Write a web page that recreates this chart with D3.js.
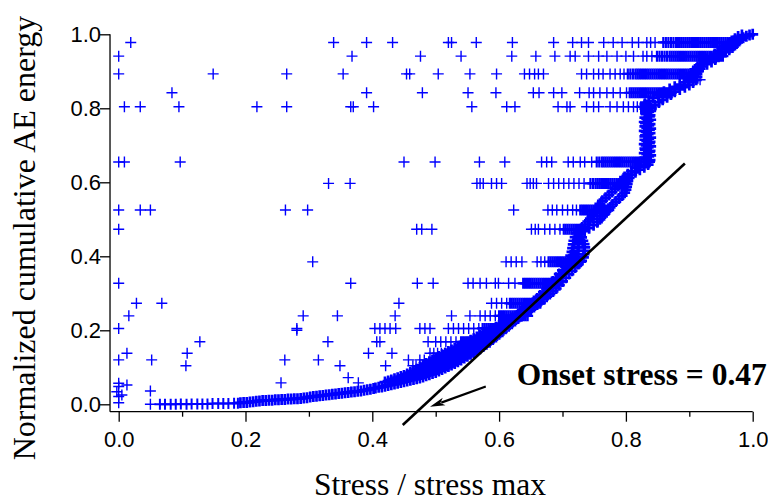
<!DOCTYPE html>
<html><head><meta charset="utf-8">
<script src="https://cdn.jsdelivr.net/npm/d3@7"></script>
<style>html,body{margin:0;padding:0;background:#fff;} svg{display:block}</style>
</head><body>
<svg id="chart" width="768" height="502"></svg>
<script>
// ---------------- DATA ----------------
const xTicks = [0, 0.2, 0.4, 0.6, 0.8, 1.0];
const xMinorTicks = [0.1, 0.3, 0.5, 0.7, 0.9];
const yTicks = [0, 0.2, 0.4, 0.6, 0.8, 1.0];
const xTitle = "Stress / stress max";
const yTitle = "Normalized cumulative AE energy";
const noteText = "Onset stress = 0.47";

// horizontal rows of events (normalized energy level -> stress values)
const rowLevels = [0.978, 0.941, 0.893, 0.842, 0.804, 0.655, 0.597, 0.525, 0.473, 0.385, 0.327, 0.273, 0.239, 0.205, 0.169, 0.138, 0.120, 0.104];
const rowSparse = [
  [0.019,0.339,0.391,0.432,0.520,0.525,0.564,0.621,0.686,0.716,0.730,0.741,0.765,0.780,0.794,0.810,0.820,0.833,0.839,0.846],
  [0.000,0.368,0.476,0.540,0.620,0.658,0.688,0.712,0.720,0.741,0.757,0.770,0.786,0.800,0.812,0.827,0.833,0.841],
  [0.000,0.149,0.265,0.354,0.454,0.459,0.504,0.554,0.596,0.640,0.648,0.656,0.662,0.670,0.730,0.738,0.749,0.757,0.764,0.775,0.783,0.791,0.797],
  [0.084,0.391,0.479,0.551,0.595,0.654,0.663,0.686,0.699,0.727,0.742,0.749,0.759,0.770,0.780,0.791,0.801],
  [0.009,0.034,0.095,0.218,0.265,0.366,0.370,0.402,0.557,0.612,0.625,0.693,0.707,0.712,0.738,0.749,0.757,0.775,0.786,0.796,0.804,0.812,0.818],
  [0.000,0.009,0.097,0.450,0.499,0.569,0.609,0.667,0.675,0.683,0.709,0.717,0.728,0.735,0.746],
  [0.331,0.365,0.565,0.570,0.575,0.588,0.596,0.604,0.644,0.649,0.654,0.659,0.678,0.686,0.694,0.702,0.710,0.718,0.726,0.734],
  [0.000,0.034,0.050,0.263,0.298,0.623,0.677,0.684,0.691,0.700,0.708,0.716,0.722],
  [0.000,0.470,0.478,0.494,0.651,0.657,0.662,0.672,0.680,0.688,0.696],
  [0.306,0.611,0.619,0.627,0.636,0.660,0.666,0.672],
  [0.000,0.366,0.471,0.496,0.551,0.559,0.570,0.580,0.594,0.599,0.615,0.625],
  [0.028,0.068,0.442,0.588,0.596,0.604,0.612],
  [0.016,0.291,0.345,0.436,0.525,0.554,0.570,0.578,0.586,0.594],
  [0.000,0.281,0.404,0.412,0.420,0.428,0.437,0.475,0.483,0.491,0.520,0.528,0.536,0.544,0.552,0.560,0.568],
  [0.128,0.330,0.407,0.412,0.488,0.500,0.508,0.516,0.524,0.532],
  [0.013,0.108,0.394,0.431,0.491,0.497,0.503,0.509,0.515],
  [0.000,0.052,0.262,0.315,0.457,0.475,0.482],
  [0.106,0.349,0.421,0.464,0.469,0.475,0.480]
];
const rowDense = [
  [.859,.863,.867,.871,.875,.879,.882,.885,.888,.891,.894,.897,.900,.903,.906,.909,.912,.915,.918,.921,.924,.927,.930,.933,.936,.939,.942,.945,.948,.951,.954,.957,.960,.963,.966,.969,.972,.975],
  [.849,.853,.857,.861,.865,.869,.872,.875,.878,.881,.884,.887,.890,.893,.896,.899,.902,.905,.908,.911,.914,.917,.920,.923,.926,.929,.932,.935,.938,.941,.944,.947,.950,.953],
  [.803,.807,.811,.815,.818,.821,.824,.827,.830,.833,.836,.839,.842,.845,.848,.851,.854,.857,.860,.863,.866,.869,.872,.875,.878,.881,.884,.887,.890,.893,.896,.899,.902,.905,.908],
  [.806,.809,.812,.815,.818,.821,.824,.827,.830,.833,.836,.839,.842,.845,.848,.851,.854,.857,.860,.863,.866,.869,.872],
  [.824,.827,.830,.833,.836,.839],
  [.754,.758,.762,.765,.768,.771,.774,.777,.780,.783,.786,.789,.792,.795,.798,.801,.804,.807,.810,.813,.816,.819,.822,.825,.828,.831,.834,.837],
  [.744,.748,.752,.755,.758,.761,.764,.767,.770,.773,.776,.779,.782,.785,.788,.791,.794,.797,.800],
  [.728,.731,.734,.737,.740,.743,.746,.749,.752,.755,.758,.761,.764,.767,.770,.773],
  [.702,.705,.708,.711,.714,.717,.720,.723,.726,.729,.732],
  [.678,.681,.684,.687,.690,.693,.696,.699,.702,.705,.708,.711,.714,.717,.720,.723,.726,.729],
  [.638,.641,.644,.647,.650,.653,.656,.659,.662,.665,.668,.671,.674,.677,.680,.683,.686,.689,.692],
  [.617,.620,.623,.626,.629,.632,.635,.638,.641,.644,.647,.650,.653,.656,.659,.662,.665],
  [.600,.603,.606,.609,.612,.615,.618,.621,.624,.627,.630,.633,.636,.639,.642,.645],
  [.574,.577,.580,.583,.586,.589,.592,.595,.598,.601,.604,.607,.610],
  [.540,.543,.546,.549,.552,.555,.558,.561,.564,.567,.570,.573,.576,.579],
  [.520,.523,.526,.529,.532,.535,.538,.541,.544,.547,.550,.553],
  [.495,.498,.501,.504,.507,.510,.513,.516,.519,.522,.525,.528,.531,.534],
  [.487,.490,.493,.496,.499,.502,.505,.508,.511,.514,.517,.520]
];

// isolated events
const isolatedPts = [[0.000,0.057],[0.013,0.052],[0.000,0.048],[-0.003,0.034],[0.005,0.025],[0.000,0.021],[0.000,0.004],
  [0.050,0.036],[0.050,0.000],[0.256,0.058],[0.362,0.072],[0.378,0.058],[0.917,0.877],[0.281,0.200]];

// main band (stress, energy)
const bandStart = [[0.065,0],[0.073,0],[0.082,0],[0.090,0],[0.098,0.001],[0.107,0],[0.115,0.001],[0.124,0.001],[0.132,0.001],[0.140,0.001],[0.148,0.002],[0.157,0.002],[0.165,0.002],[0.173,0.002],[0.182,0.003],[0.188,0.003]];
const bandFlat = [[.192,.004],[.197,.005],[.202,.005],[.207,.006],[.212,.007],[.217,.008],[.222,.009],[.227,.010],[.232,.010],[.237,.011],[.242,.011],[.247,.012],[.252,.012],[.257,.013],[.262,.013],[.267,.014],[.272,.014],[.277,.015],[.282,.015],[.287,.016],[.292,.017],[.297,.018],[.302,.020],[.307,.021],[.312,.022],[.317,.023],[.322,.024],[.327,.025],[.332,.026],[.337,.027],[.342,.028],[.347,.029],[.352,.030],[.357,.031],[.362,.032],[.367,.033],[.372,.034],[.377,.035],[.382,.036],[.387,.038],[.392,.039],[.397,.041],[.402,.043]];
const bandLower = [[0.405,0.044],[0.410,0.046],[0.415,0.047],[0.420,0.049],[0.425,0.051],[0.430,0.053],[0.435,0.055],[0.440,0.057],[0.445,0.059],[0.450,0.061],[0.455,0.063],[0.460,0.065],[0.465,0.067],[0.470,0.069],[0.475,0.071],[0.480,0.074],[0.485,0.077],[0.490,0.080],[0.495,0.083],[0.500,0.086],[0.505,0.090],[0.510,0.094],[0.515,0.098],[0.520,0.102],[0.525,0.106],[0.530,0.110],[0.535,0.115],[0.540,0.120],[0.545,0.125],[0.550,0.130],[0.555,0.135],[0.560,0.140],[0.565,0.145],[0.570,0.150],[0.575,0.156],[0.580,0.162],[0.585,0.168],[0.590,0.175],[0.595,0.182],[0.600,0.189],[0.605,0.196],[0.610,0.204],[0.615,0.211],[0.620,0.218],[0.625,0.225],[0.630,0.232],[0.635,0.238],[0.640,0.244],[0.645,0.250],[0.650,0.256],[0.655,0.263],[0.660,0.270],[0.665,0.277],[0.670,0.284],[0.675,0.291],[0.680,0.298],[0.685,0.305],[0.690,0.313],[0.695,0.322],[0.700,0.332],[0.705,0.342],[0.710,0.352],[0.715,0.361],[0.720,0.370],[0.725,0.379],[0.730,0.388],[0.733,0.397],[0.734,0.406],[0.735,0.415],[0.735,0.424],[0.734,0.433],[0.732,0.442],[0.730,0.451],[0.728,0.460],[0.735,0.468],[0.742,0.476],[0.749,0.484],[0.755,0.492],[0.759,0.500],[0.763,0.508],[0.767,0.516],[0.771,0.524],[0.775,0.532],[0.779,0.540],[0.784,0.548],[0.789,0.556],[0.794,0.564],[0.798,0.572],[0.800,0.580],[0.801,0.588],[0.802,0.596],[0.803,0.604],[0.805,0.612],[0.809,0.620],[0.815,0.627],[0.822,0.634],[0.829,0.641],[0.835,0.648],[0.837,0.656]];
const bandCore = [[.4425,.066],[.4475,.069],[.4525,.072],[.4575,.075],[.4625,.078],[.4675,.081],[.4725,.085],[.4775,.089],[.4825,.093],[.4875,.097],[.4925,.100],[.4975,.104],[.5025,.108],[.5075,.112],[.5125,.116],[.5175,.120],[.5225,.124],[.5275,.128],[.5325,.132],[.5375,.137],[.5425,.142],[.5475,.146],[.5525,.151],[.5575,.156],[.5625,.161],[.5675,.166],[.5725,.171],[.5775,.176],[.5825,.182],[.5875,.188],[.5925,.194],[.5975,.200],[.6025,.205],[.6075,.212],[.6125,.218],[.6175,.224],[.6225,.230],[.6275,.237],[.6325,.244],[.6375,.250],[.6425,.257],[.6475,.263],[.6525,.270],[.6575,.277],[.6625,.284],[.6675,.292],[.6725,.300],[.6775,.308],[.6825,.317],[.6875,.326],[.6925,.335],[.6975,.345],[.7025,.355],[.7075,.365],[.712,.375],[.718,.385],[.722,.395],[.724,.405],[.725,.415],[.725,.425],[.725,.435],[.724,.445]];
const bandUpper = [[0.420,0.060],[0.425,0.063],[0.430,0.066],[0.435,0.069],[0.440,0.072],[0.445,0.075],[0.450,0.078],[0.455,0.082],[0.460,0.086],[0.465,0.090],[0.470,0.095],[0.475,0.100],[0.480,0.105],[0.485,0.110],[0.490,0.115],[0.495,0.119],[0.500,0.124],[0.505,0.129],[0.510,0.134],[0.515,0.138],[0.520,0.143],[0.525,0.147],[0.530,0.151],[0.535,0.155],[0.540,0.159],[0.545,0.164],[0.550,0.168],[0.555,0.173],[0.560,0.177],[0.565,0.182],[0.570,0.186],[0.575,0.190],[0.580,0.195],[0.585,0.199],[0.590,0.204],[0.595,0.208],[0.600,0.213],[0.605,0.218],[0.610,0.223],[0.615,0.228],[0.620,0.233],[0.625,0.238],[0.630,0.244],[0.635,0.251],[0.640,0.258],[0.645,0.265],[0.650,0.272],[0.655,0.279],[0.660,0.286],[0.665,0.294],[0.670,0.303],[0.675,0.312],[0.680,0.322],[0.685,0.332],[0.690,0.342],[0.695,0.352],[0.700,0.362],[0.705,0.372],[0.708,0.382],[0.711,0.392],[0.713,0.402],[0.715,0.412],[0.716,0.422],[0.717,0.432],[0.718,0.442],[0.720,0.452]];
const bandMid = [[0.722,0.462],[0.726,0.470],[0.731,0.478],[0.736,0.486],[0.740,0.494],[0.744,0.502],[0.747,0.510],[0.750,0.518],[0.753,0.526],[0.756,0.534],[0.759,0.542],[0.763,0.550],[0.768,0.558],[0.773,0.566],[0.778,0.574],[0.783,0.582],[0.788,0.590],[0.792,0.598],[0.795,0.606],[0.798,0.614],[0.803,0.622],[0.809,0.630],[0.815,0.638],[0.822,0.645]];
const bandVert = [[0.832,0.664],[0.836,0.670],[0.833,0.676],[0.837,0.682],[0.831,0.688],[0.835,0.694],[0.832,0.700],[0.837,0.706],[0.833,0.712],[0.836,0.718],[0.830,0.724],[0.835,0.730],[0.832,0.736],[0.837,0.742],[0.833,0.748],[0.836,0.754],[0.831,0.760],[0.835,0.766],[0.833,0.772],[0.837,0.778],[0.832,0.784],[0.836,0.790],[0.834,0.796],[0.837,0.802]];
const bandVert2 = [[0.838,0.660],[0.830,0.667],[0.839,0.673],[0.829,0.679],[0.838,0.685],[0.830,0.691],[0.839,0.697],[0.829,0.703],[0.838,0.709],[0.830,0.715],[0.839,0.721],[0.831,0.727],[0.838,0.733],[0.829,0.739],[0.839,0.745],[0.830,0.751],[0.838,0.757],[0.829,0.763],[0.839,0.769],[0.830,0.775],[0.838,0.781],[0.831,0.787],[0.839,0.793],[0.830,0.799]];
const bandTop = [[0.840,0.800],[0.846,0.808],[0.852,0.816],[0.858,0.823],[0.865,0.830],[0.871,0.837],[0.877,0.845],[0.885,0.851],[0.893,0.857],[0.900,0.863],[0.906,0.870],[0.911,0.877],[0.912,0.885],[0.912,0.893],[0.914,0.900],[0.917,0.907],[0.921,0.913],[0.928,0.919],[0.935,0.925],[0.941,0.932],[0.946,0.939],[0.951,0.946],[0.957,0.952],[0.963,0.958],[0.968,0.964],[0.972,0.971],[0.976,0.978],[0.980,0.985],[0.985,0.991],[0.990,0.995],[0.995,0.998],[1.000,1.000]];
const bandTopInner = [[0.830,0.812],[0.836,0.820],[0.843,0.828],[0.851,0.836],[0.860,0.845],[0.869,0.852],[0.877,0.858],[0.885,0.864],[0.892,0.870],[0.898,0.877],[0.902,0.884],[0.904,0.891],[0.906,0.898],[0.909,0.905],[0.913,0.912],[0.918,0.919],[0.923,0.926],[0.928,0.933],[0.934,0.940],[0.940,0.947],[0.946,0.954],[0.951,0.961],[0.957,0.968],[0.962,0.975],[0.967,0.982],[0.972,0.988],[0.977,0.994],[0.983,0.998]];

// onset tangent line and arrow (stress, energy)
const onsetLine = [[0.448,-0.056],[0.893,0.651]];
const arrowPts = [[0.579,0.048],[0.491,-0.0065]];

// ---------------- CHART ----------------
const svg = d3.select("#chart");
svg.append("rect").attr("width",768).attr("height",502).attr("fill","#fff");
const x = d3.scaleLinear().domain([0,1]).range([118.7,752.7]);
const y = d3.scaleLinear().domain([0,1]).range([404.3,34.3]);
const xLeft = x(-0.0137), yBottom = y(-0.02);

// point groups: [points, stroke width]
const groups = [];
const sparsePts = [], densePts = [];
rowLevels.forEach((lv,i)=>{
  rowSparse[i].forEach(s=>sparsePts.push([s,lv]));
  rowDense[i].forEach(s=>densePts.push([s,lv]));
});
groups.push([sparsePts,1.4],[isolatedPts,1.4],[bandStart,2.0],[densePts,2.2]);
groups.push([bandFlat.concat(bandLower,bandCore,bandUpper,bandMid,bandVert,bandVert2,bandTop,bandTopInner),2.7]);

const cross = "M-5.5,0H5.5M0,-5.5V5.5";
groups.forEach(([arr,sw])=>{
  svg.append("g").selectAll("path").data(arr).join("path")
    .attr("d",cross)
    .attr("transform",d=>`translate(${x(d[0])},${y(d[1])})`)
    .attr("fill","none").attr("stroke","#0000ff").attr("stroke-width",sw);
});

// axes
const axisFont = "'Liberation Sans', Arial, sans-serif";
const gx = svg.append("g").attr("transform",`translate(0,${yBottom})`)
  .call(d3.axisBottom(x).tickValues(xTicks).tickFormat(d3.format(".1f")).tickSize(10).tickPadding(9.4));
gx.select(".domain").remove();
const gxm = svg.append("g").attr("transform",`translate(0,${yBottom})`)
  .call(d3.axisBottom(x).tickValues(xMinorTicks).tickFormat("").tickSize(5));
gxm.select(".domain").remove();
const gy = svg.append("g").attr("transform",`translate(${xLeft},0)`)
  .call(d3.axisLeft(y).tickValues(yTicks).tickFormat(d3.format(".1f")).tickSize(10).tickPadding(-1));
gy.select(".domain").remove();
[gx,gxm,gy].forEach(g=>{
  g.attr("font-family",axisFont).attr("font-size",22);
  g.selectAll("line").attr("stroke","#000").attr("stroke-width",1.3);
  g.selectAll("text").attr("fill","#000");
});
svg.append("line").attr("x1",xLeft).attr("x2",x(1)).attr("y1",yBottom).attr("y2",yBottom)
  .attr("stroke","#000").attr("stroke-width",1.3);
svg.append("line").attr("x1",xLeft).attr("x2",xLeft).attr("y1",yBottom).attr("y2",y(1))
  .attr("stroke","#000").attr("stroke-width",1.3);

// titles
const serif = "'Liberation Serif', 'Times New Roman', serif";
svg.append("text").attr("x",430).attr("y",495).attr("text-anchor","middle")
  .attr("font-family",serif).attr("font-size",31.5).attr("fill","#000").text(xTitle);
svg.append("text").attr("transform","translate(35,238) rotate(-90)").attr("text-anchor","middle")
  .attr("font-family",serif).attr("font-size",32).attr("fill","#000").text(yTitle);

// onset line
svg.append("line")
  .attr("x1",x(onsetLine[0][0])).attr("y1",y(onsetLine[0][1]))
  .attr("x2",x(onsetLine[1][0])).attr("y2",y(onsetLine[1][1]))
  .attr("stroke","#000").attr("stroke-width",2.6);

// arrow
const ax1 = x(arrowPts[0][0]), ay1 = y(arrowPts[0][1]);
const ax2 = x(arrowPts[1][0]), ay2 = y(arrowPts[1][1]);
const ang = Math.atan2(ay2-ay1, ax2-ax1);
const hl = 15, hw = 4;
const bx = ax2 - hl*Math.cos(ang), by = ay2 - hl*Math.sin(ang);
svg.append("line").attr("x1",ax1).attr("y1",ay1).attr("x2",bx+3*Math.cos(ang)).attr("y2",by+3*Math.sin(ang))
  .attr("stroke","#000").attr("stroke-width",2.2);
svg.append("path")
  .attr("d",`M${ax2},${ay2}L${bx - hw*Math.sin(ang)},${by + hw*Math.cos(ang)}L${bx+4*Math.cos(ang)},${by+4*Math.sin(ang)}L${bx + hw*Math.sin(ang)},${by - hw*Math.cos(ang)}Z`)
  .attr("fill","#000");

// annotation
svg.append("text").attr("x",516.7).attr("y",385)
  .attr("font-family",serif).attr("font-weight","bold").attr("font-size",31.5).attr("fill","#000").text(noteText);
</script>
</body></html>
